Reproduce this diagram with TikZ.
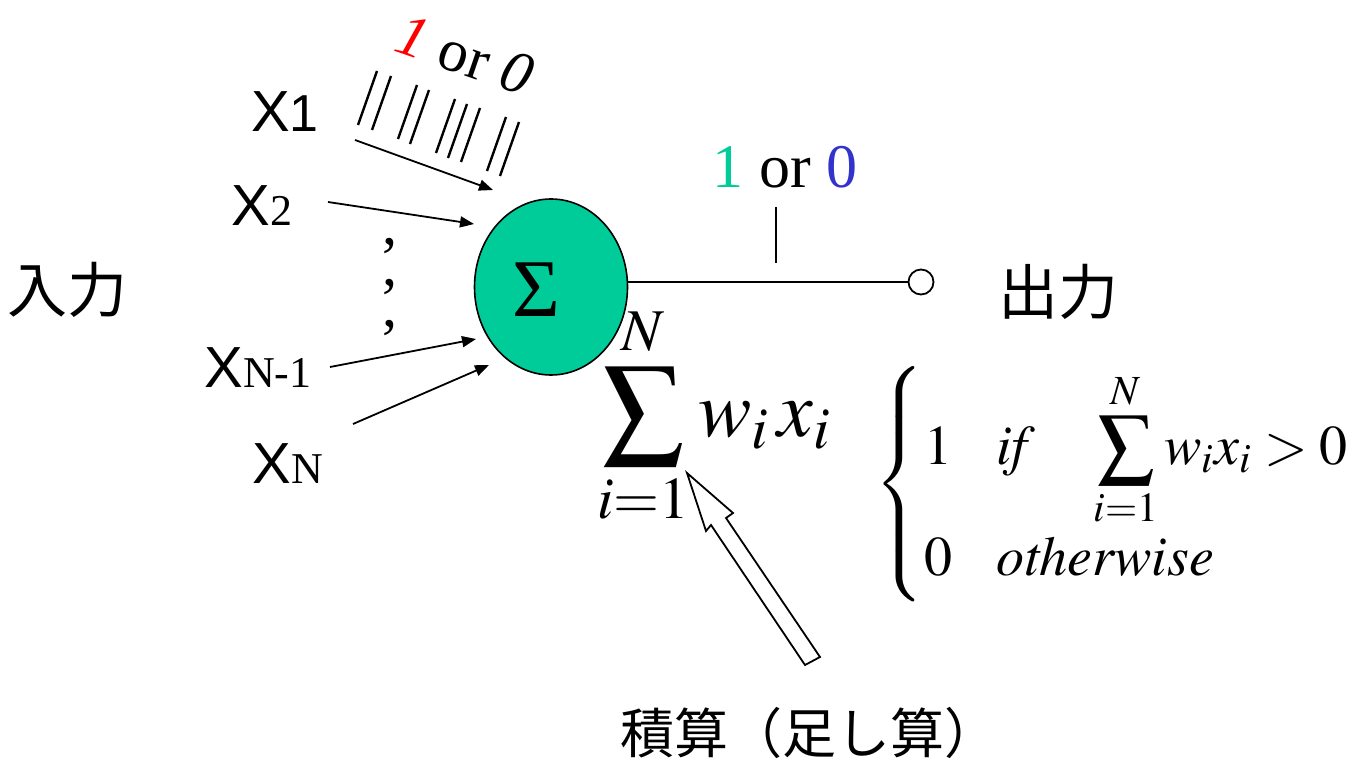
\documentclass[tikz,border=0pt]{standalone}
\usepackage{mathptmx}
\usepackage{fontspec}
\setmainfont{Liberation Serif}
\setsansfont{Liberation Sans}
\newfontfamily\jpfont{Noto Sans CJK JP}
\usetikzlibrary{arrows.meta,shapes.geometric}
\definecolor{cellgreen}{RGB}{0,204,153}
\definecolor{zeroblue}{RGB}{51,51,204}
% input label: sans X followed by its index
\newcommand{\xlabel}[1]{{\fontsize{29}{29}\selectfont\sffamily X}#1}
\newcommand{\jpsize}{\fontsize{30}{30}\selectfont\jpfont}

\begin{document}
\begin{tikzpicture}[x=0.5pt,y=-0.5pt,
  inarrow/.style={-{Triangle[length=7pt,width=5.5pt]},line width=0.9pt},
  hashline/.style={line width=1.2pt},
  every node/.style={inner sep=0pt}]
\useasboundingbox (0,0) rectangle (1371,759);
% neuron
\node[draw,fill=cellgreen,ellipse,line width=0.8pt,minimum width=76.5pt,minimum height=88pt] (cell) at (551,287) {};
\node[font=\fontsize{41}{41}\selectfont] (sigma) at (536,290) {Σ};
% inputs
\node (inlbl) at (68,290) {\jpsize 入力};
\node (x1) at (285,112) {\xlabel{{\fontsize{26}{26}\selectfont\sffamily 1}}};
\node (x2) at (262,206) {\xlabel{{\fontsize{22}{22}\selectfont 2}}};
\node (xn1) at (258,368) {\xlabel{{\fontsize{22}{22}\selectfont N-1}}};
\node (xn) at (288,464) {\xlabel{{\fontsize{22}{22}\selectfont N}}};
\coordinate (x1s) at (355,140);  \coordinate (x1e) at (493,190);
\coordinate (x2s) at (328,202);  \coordinate (x2e) at (474,224);
\coordinate (xn1s) at (330,367); \coordinate (xn1e) at (476,339);
\coordinate (xns) at (353,424);  \coordinate (xne) at (489,365);
\draw[inarrow] (x1s) -- (x1e);
\draw[inarrow] (x2s) -- (x2e);
\draw[inarrow] (xn1s) -- (xn1e);
\draw[inarrow] (xns) -- (xne);
\foreach \y [count=\i] in {246,287,328}
  \node[font=\fontsize{30}{30}\selectfont] (dot\i) at (390,\y) {,};
% binary pulses on x1
\foreach \x/\y in {377/71,391/76,417/85,429/90,455/99,467/104,480/108,506/117,519/122}
  \draw[hashline] (\x,\y) -- ++(-19,54);
\node[rotate=-19,font=\fontsize{30}{30}\selectfont] (inval) at (465,55) {{\color{red}\textit{1}} or \textit{0}};
% output
\node[draw,circle,fill=white,line width=0.9pt,minimum size=12.5pt] (out) at (921,282) {};
\draw[line width=0.9pt] (cell.east |- out) -- (out);
\draw[hashline] (776,207) -- (776,263);
\node[font=\fontsize{31}{31}\selectfont] (outval) at (785,167) {{\color{cellgreen}1} or {\color{zeroblue}0}};
\node (outlbl) at (1058,292) {\jpsize 出力};
% weighted sum and threshold
\node[font=\fontsize{40}{48}\selectfont] (sumf) at (714,416) {$\displaystyle\sum_{i=1}^{N} w_i\,x_i$};
\node[font=\fontsize{28}{34}\selectfont,anchor=west] (rule) at (874,484)
  {$\left\{\begin{array}{@{}l@{\hspace{22pt}}l@{}}
    1 & \mathit{if}\hspace{26pt}\displaystyle\sum_{i=1}^{N} w_i x_i > 0\\
    0 & \mathit{otherwise}
  \end{array}\right.$};
\node (calc) at (809,733) {\fontsize{27}{27}\selectfont\jpfont 積算（足し算）};
\draw[line width=0.9pt,fill=white] (805,665) -- (711,525) -- (706,531) -- (687,473)
  -- (733,513) -- (726,518) -- (820,657) -- cycle;
\end{tikzpicture}
\end{document}
